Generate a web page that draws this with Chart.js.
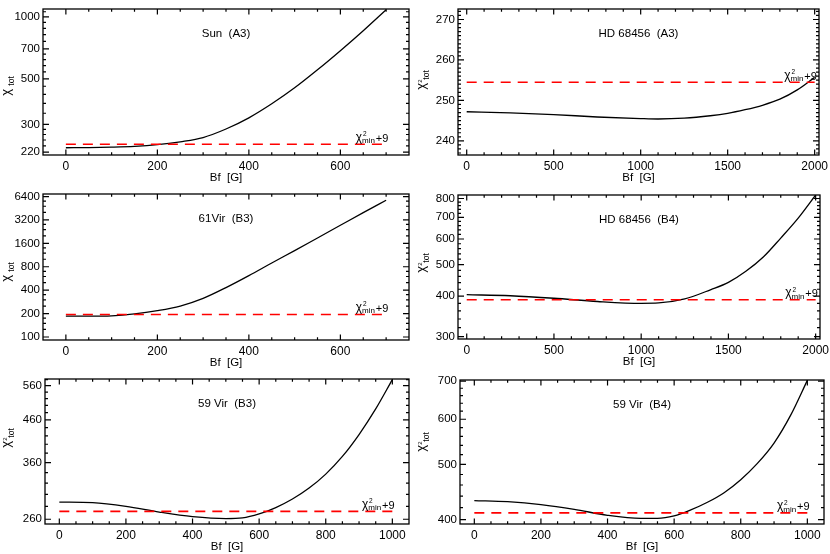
<!DOCTYPE html>
<html><head><meta charset="utf-8">
<script src="https://cdn.jsdelivr.net/npm/chart.js@4"></script>
<style>
html,body{margin:0;padding:0;background:#fff;}
#wrap{position:relative;width:830px;height:554px;overflow:hidden;background:#fff;}
canvas{position:absolute;}
</style></head><body><div id="wrap"></div>
<script>
// ---------------- data ----------------
// Sun (A3)
const sunB      = [0,50,100,150,200,250,300,350,400,450,500,550,600,650,700];
const sunChi    = [231,231.5,232.5,234.5,239,247,259,285,323,378,452,553,685,857,1084];
const sunLevel  = 240.3;
const sunYTicks = [220,300,500,700,1000];
const sunXTicks = [0,200,400,600];

// HD 68456 (A3)
const hdA3B      = [0,250,500,750,1000,1100,1250,1400,1500,1600,1700,1800,1900,2000];
const hdA3Chi    = [247.2,246.9,246.5,245.9,245.5,245.4,245.6,246.2,246.8,247.7,248.8,250.3,252.6,255.7];
const hdA3Level  = 254.5;
const hdA3YTicks = [240,250,260,270];
const hdXTicks   = [0,500,1000,1500,2000];

// 61Vir (B3)
const vir61B      = [0,50,100,150,200,250,300,350,400,450,500,550,600,650,700];
const vir61Chi    = [186,185,187,198,218,250,314,432,616,895,1290,1878,2732,3975,5730];
const vir61Level  = 195;
const vir61YTicks = [100,200,400,800,1600,3200,6400];

// HD 68456 (B4)
const hdB4B      = [0,250,500,750,1000,1100,1250,1400,1500,1600,1700,1800,1900,2000];
const hdB4Chi    = [404,401,394,385,380,381,392,419,441,477,528,604,696,820];
const hdB4Level  = 390;
const hdB4YTicks = [300,400,500,600,700,800];

// 59 Vir (B3) and (B4)
const vir59B        = [0,100,200,300,400,500,550,600,650,700,750,800,850,900,950,1000];
const vir59B3Chi    = [287,286,280,271,264,261,262,268,278,292,311,337,373,423,490,580];
const vir59B3Level  = 272;
const vir59B3YTicks = [260,360,460,560];
const vir59B4Chi    = [432,430,425,417,407,402,402,406,416,429,446,470,502,545,610,702];
const vir59B4Level  = 411;
const vir59B4YTicks = [400,500,600,700];
const virXTicks     = [0,200,400,600,800,1000];

// ---------------- layout / style ----------------
const FONT = '"Liberation Sans", Arial, Helvetica, sans-serif';
const rowTop = [0,185,370], rowH = [185,185,184];
const colLeft = [0,415], colW = 415;

const panels = [
  {col:0,row:0,title:'Sun  (A3)',B:sunB,chi:sunChi,level:sunLevel,xMin:-50,xMax:750,xTicks:sunXTicks,xMinor:50,
   yType:'logarithmic',yMin:213,yMax:1093,yTicks:sunYTicks,ySub:5,area:{l:43,r:409,t:9,b:155},sup:false,yTitleY:86},
  {col:1,row:0,title:'HD 68456  (A3)',B:hdA3B,chi:hdA3Chi,level:hdA3Level,xMin:-50,xMax:2025,xTicks:hdXTicks,xMinor:100,
   yType:'linear',yMin:236.5,yMax:272.6,yTicks:hdA3YTicks,ySub:10,area:{l:458,r:819,t:9,b:155},sup:true,yTitleY:80},
  {col:0,row:1,title:'61Vir  (B3)',B:vir61B,chi:vir61Chi,level:vir61Level,xMin:-50,xMax:750,xTicks:sunXTicks,xMinor:50,
   yType:'logarithmic',yMin:91.5,yMax:6900,yTicks:vir61YTicks,ySub:4,area:{l:43,r:409,t:194,b:340},sup:false,yTitleY:272},
  {col:1,row:1,title:'HD 68456  (B4)',B:hdB4B,chi:hdB4Chi,level:hdB4Level,xMin:-50,xMax:2025,xTicks:hdXTicks,xMinor:100,
   yType:'logarithmic',yMin:295,yMax:820,yTicks:hdB4YTicks,ySub:5,area:{l:458,r:820,t:195,b:339},sup:true,yTitleY:263},
  {col:0,row:2,title:'59 Vir  (B3)',B:vir59B,chi:vir59B3Chi,level:vir59B3Level,xMin:-43,xMax:1050,xTicks:virXTicks,xMinor:50,
   yType:'logarithmic',yMin:253,yMax:582,yTicks:vir59B3YTicks,ySub:5,area:{l:45,r:409,t:379,b:524},sup:true,yTitleY:438},
  {col:1,row:2,title:'59 Vir  (B4)',B:vir59B,chi:vir59B4Chi,level:vir59B4Level,xMin:-43,xMax:1050,xTicks:virXTicks,xMinor:50,
   yType:'logarithmic',yMin:393,yMax:703,yTicks:vir59B4YTicks,ySub:5,area:{l:460,r:824,t:380,b:524},sup:true,yTitleY:442}
];

function xMinorValues(P){
  const out=[];
  const start=Math.ceil(P.xMin/P.xMinor)*P.xMinor;
  for(let v=start; v<=P.xMax+1e-9; v+=P.xMinor){
    if(v<=P.xMin||v>=P.xMax) continue;
    if(P.xTicks.indexOf(v)<0) out.push(v);
  }
  return out;
}
function yMinorValues(P){
  const t=P.yTicks, out=[];
  for(let i=0;i<t.length-1;i++){
    const st=(t[i+1]-t[i])/P.ySub;
    for(let k=1;k<P.ySub;k++) out.push(t[i]+k*st);
  }
  const stLo=(t[1]-t[0])/P.ySub, stHi=(t[t.length-1]-t[t.length-2])/P.ySub;
  for(let v=t[0]-stLo; v>P.yMin; v-=stLo) out.push(v);
  for(let v=t[t.length-1]+stHi; v<P.yMax; v+=stHi) out.push(v);
  return out;
}

function drawChiLabel(ctx,xRight,yRed){
  const base=yRed-2.6;
  ctx.font='12px '+FONT; const wChi=ctx.measureText('\u03c7').width;
  ctx.font='8px '+FONT; const wMin=ctx.measureText('min').width;
  ctx.font='11px '+FONT; const wPl=ctx.measureText('+9').width;
  const x0=xRight-(wChi+wMin+0.8+wPl);
  ctx.textAlign='left'; ctx.textBaseline='alphabetic'; ctx.fillStyle='#000';
  ctx.font='12px '+FONT; ctx.fillText('\u03c7',x0,base-1);
  ctx.font='6.5px '+FONT; ctx.fillText('2',x0+wChi+0.8,base-5.5);
  ctx.font='8px '+FONT; ctx.fillText('min',x0+wChi,base+1.6);
  ctx.font='11px '+FONT; ctx.fillText('+9',x0+wChi+wMin+0.8,base);
}

function drawYTitle(ctx,cx,cy,sup){
  ctx.save();
  ctx.translate(cx,cy); ctx.rotate(-Math.PI/2);
  ctx.fillStyle='#000'; ctx.textAlign='left'; ctx.textBaseline='alphabetic';
  ctx.font='13px '+FONT; const wChi=ctx.measureText('\u03c7').width;
  ctx.font='8.5px '+FONT; const wTot=ctx.measureText('tot').width;
  const gap=3.2, w=wChi+gap+wTot, x0=-w/2;
  ctx.font='13px '+FONT; ctx.fillText('\u03c7',x0,0);
  if(sup){ ctx.font='6px '+FONT; ctx.fillText('2',x0+wChi+0.2,-3); }
  ctx.font='8.5px '+FONT; ctx.fillText('tot',x0+wChi+gap,4);
  ctx.restore();
}

function makePlugin(P,left,top){
  return {
    id:'frame',
    afterDatasetsDraw(chart){
      const ctx=chart.ctx, a=chart.chartArea, xs=chart.scales.x, ys=chart.scales.y;
      ctx.save();
      ctx.strokeStyle='#000'; ctx.lineWidth=1.2;
      ctx.beginPath();
      const tick=(px,len,horiz)=>{
        if(horiz){ ctx.moveTo(px,a.bottom); ctx.lineTo(px,a.bottom-len); ctx.moveTo(px,a.top); ctx.lineTo(px,a.top+len); }
        else { ctx.moveTo(a.left,px); ctx.lineTo(a.left+len,px); ctx.moveTo(a.right,px); ctx.lineTo(a.right-len,px); }
      };
      P.xTicks.forEach(v=>tick(xs.getPixelForValue(v),5.5,true));
      xMinorValues(P).forEach(v=>tick(xs.getPixelForValue(v),2.8,true));
      P.yTicks.forEach(v=>{ if(v>=P.yMin&&v<=P.yMax) tick(ys.getPixelForValue(v),6,false); });
      yMinorValues(P).forEach(v=>tick(ys.getPixelForValue(v),3,false));
      ctx.stroke();
      ctx.lineWidth=1.3;
      ctx.strokeRect(a.left,a.top,a.right-a.left,a.bottom-a.top);
      // panel title
      ctx.fillStyle='#000'; ctx.font='11.5px '+FONT; ctx.textAlign='center'; ctx.textBaseline='middle';
      ctx.fillText(P.title,(a.left+a.right)/2,a.top+24.5);
      // x title
      ctx.fillText('Bf  [G]',(a.left+a.right)/2,a.bottom+23);
      // chi2min + 9
      drawChiLabel(ctx,xs.getPixelForValue(P.B[P.B.length-1])+2.2,ys.getPixelForValue(P.level));
      // y title
      drawYTitle(ctx,9.5,P.yTitleY-top,P.sup);
      ctx.restore();
    }
  };
}

const wrap=document.getElementById('wrap');
panels.forEach(P=>{
  const left=colLeft[P.col], top=rowTop[P.row], H=rowH[P.row];
  const cv=document.createElement('canvas');
  cv.width=colW; cv.height=H;
  cv.style.left=left+'px'; cv.style.top=top+'px';
  cv.style.width=colW+'px'; cv.style.height=H+'px';
  wrap.appendChild(cv);
  const yw=P.area.l-left, padR=left+colW-P.area.r, padT=P.area.t-top, xh=top+H-P.area.b;
  new Chart(cv,{
    type:'line',
    data:{datasets:[
      {data:[{x:P.B[0],y:P.level},{x:P.B[P.B.length-1],y:P.level}],borderColor:'#ff0000',borderWidth:1.6,borderDash:[10,7],pointRadius:0,fill:false},
      {data:P.B.map((b,i)=>({x:b,y:P.chi[i]})),borderColor:'#000000',borderWidth:1.3,pointRadius:0,cubicInterpolationMode:'monotone',fill:false}
    ]},
    options:{
      responsive:false,animation:false,events:[],devicePixelRatio:1,
      layout:{padding:{top:padT,right:padR,bottom:0,left:0}},
      plugins:{legend:{display:false},tooltip:{enabled:false},title:{display:false}},
      scales:{
        x:{type:'linear',min:P.xMin,max:P.xMax,
           grid:{display:false,drawTicks:false},border:{display:false},
           ticks:{autoSkip:false,maxRotation:0,padding:4,font:{family:FONT,size:12},color:'#000',callback:v=>String(v)},
           afterBuildTicks:s=>{s.ticks=P.xTicks.map(v=>({value:v}));},
           afterFit:s=>{s.height=xh;s.paddingLeft=0;s.paddingRight=0;}},
        y:{type:P.yType,min:P.yMin,max:P.yMax,
           grid:{display:false,drawTicks:false},border:{display:false},
           ticks:{autoSkip:false,padding:3,font:{family:FONT,size:11.5},color:'#000',callback:v=>String(v)},
           afterBuildTicks:s=>{s.ticks=P.yTicks.map(v=>({value:v}));},
           afterFit:s=>{s.width=yw;s.paddingTop=0;s.paddingBottom=0;}}
      }
    },
    plugins:[makePlugin(P,left,top)]
  });
});
</script>
</body></html>
